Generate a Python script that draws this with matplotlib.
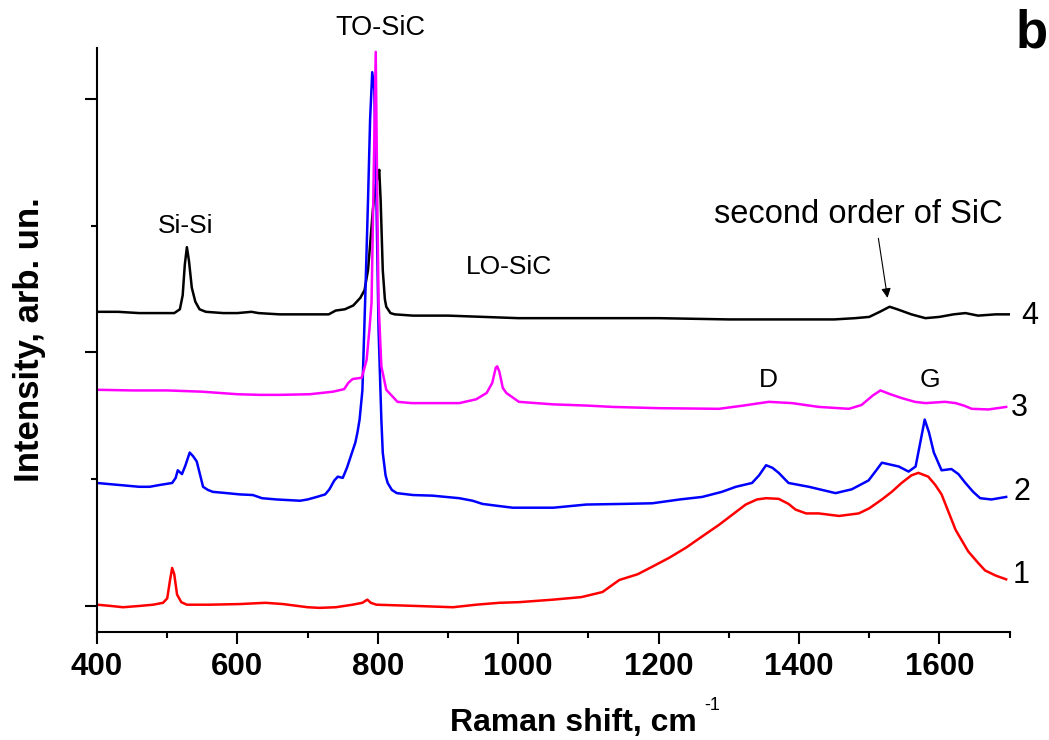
import matplotlib
matplotlib.use("Agg")
import matplotlib.pyplot as plt
from matplotlib.ticker import MultipleLocator

plt.rcParams['font.family'] = ['Liberation Sans', 'DejaVu Sans']

# spectrum 1 (red)
x1 = [400, 420, 437, 460, 480, 494, 500, 504, 507, 510, 514, 520, 528, 560, 603, 640, 665,
      700, 717, 740, 764, 778, 785, 790, 798, 855, 907, 940, 973, 1001, 1050, 1090, 1120,
      1144, 1170, 1191, 1215, 1239, 1265, 1286, 1305, 1324, 1340, 1353, 1371, 1385, 1395,
      1410, 1428, 1457, 1485, 1500, 1518, 1532, 1546, 1560, 1570, 1584, 1594, 1603, 1613,
      1623, 1641, 1655, 1665, 1680, 1695]
y1 = [0.01, 0.0, -0.01, 0.0, 0.01, 0.025, 0.06, 0.205, 0.30, 0.25, 0.09, 0.03, 0.01, 0.01,
      0.015, 0.025, 0.015, -0.01, -0.015, -0.01, 0.01, 0.025, 0.05, 0.025, 0.01, 0.0, -0.01,
      0.01, 0.025, 0.03, 0.05, 0.07, 0.11, 0.205, 0.25, 0.31, 0.38, 0.46, 0.56, 0.64, 0.72,
      0.80, 0.84, 0.85, 0.845, 0.805, 0.76, 0.73, 0.73, 0.71, 0.73, 0.77, 0.84, 0.90, 0.97,
      1.03, 1.05, 1.02, 0.955, 0.88, 0.74, 0.60, 0.43, 0.34, 0.28, 0.24, 0.21]

# spectrum 2 (blue)
x2 = [400, 430, 460, 475, 490, 507, 512, 515, 521, 526, 532, 537, 542, 547, 551, 558, 565,
      585, 603, 622, 635, 656, 689, 700, 713, 725, 731, 738, 743, 750, 756, 762, 768, 771,
      774, 778, 782, 786, 789, 792, 795, 798, 801, 805, 807, 811, 814, 820, 827, 850, 878,
      916, 935, 949, 970, 992, 1020, 1050, 1097, 1150, 1191, 1230, 1262, 1290, 1310, 1333,
      1343, 1353, 1362, 1371, 1385, 1414, 1452, 1475, 1499, 1510, 1518, 1542, 1556, 1566,
      1572, 1579, 1585, 1592, 1603, 1617, 1627, 1637, 1648, 1658, 1674, 1695]
y2 = [0.97, 0.955, 0.94, 0.94, 0.955, 0.97, 1.01, 1.07, 1.04, 1.11, 1.21, 1.18, 1.14, 1.03,
      0.94, 0.915, 0.90, 0.89, 0.88, 0.875, 0.85, 0.84, 0.83, 0.84, 0.86, 0.88, 0.92, 0.99,
      1.02, 1.01, 1.09, 1.19, 1.29, 1.37, 1.47, 1.70, 2.42, 3.20, 3.84, 4.21, 4.07, 3.20,
      2.18, 1.47, 1.21, 1.03, 0.97, 0.915, 0.89, 0.875, 0.87, 0.85, 0.83, 0.805, 0.79, 0.775,
      0.775, 0.775, 0.80, 0.805, 0.81, 0.84, 0.86, 0.90, 0.94, 0.97, 1.03, 1.11, 1.09, 1.05,
      0.97, 0.94, 0.89, 0.92, 0.99, 1.07, 1.13, 1.10, 1.06, 1.10, 1.27, 1.47, 1.37, 1.21,
      1.07, 1.08, 1.04, 0.97, 0.90, 0.85, 0.84, 0.86]

# spectrum 3 (magenta)
x3 = [400, 450, 500, 550, 600, 632, 660, 703, 736, 752, 758, 764, 777, 784, 788, 791, 794,
      797, 799, 801, 805, 812, 828, 848, 880, 916, 940, 955, 963, 968, 970, 973, 978, 983,
      1001, 1050, 1100, 1134, 1200, 1286, 1320, 1357, 1390, 1428, 1471, 1489, 1505, 1516,
      1530, 1546, 1565, 1580, 1608, 1623, 1635, 1646, 1670, 1695]
y3 = [1.705, 1.70, 1.70, 1.69, 1.67, 1.665, 1.665, 1.67, 1.69, 1.71, 1.76, 1.79, 1.80, 1.94,
      2.18, 2.39, 3.36, 4.37, 3.30, 2.40, 1.89, 1.705, 1.61, 1.60, 1.60, 1.60, 1.63, 1.68,
      1.76, 1.88, 1.89, 1.85, 1.72, 1.68, 1.61, 1.59, 1.58, 1.57, 1.56, 1.555, 1.58, 1.61,
      1.60, 1.57, 1.555, 1.585, 1.66, 1.70, 1.67, 1.64, 1.61, 1.60, 1.61, 1.60, 1.58, 1.555,
      1.55, 1.57]

# spectrum 4 (black)
x4 = [400, 430, 460, 490, 510, 518, 522, 525, 528, 531, 535, 540, 546, 555, 580, 600, 620,
      630, 660, 700, 730, 740, 753, 765, 775, 781, 786, 789, 793, 797, 800, 802, 804, 807,
      810, 812, 818, 824, 850, 900, 950, 1000, 1100, 1200, 1300, 1400, 1450, 1480, 1500,
      1515, 1529, 1540, 1560, 1580, 1600, 1620, 1637, 1655, 1680, 1700]
y4 = [2.32, 2.32, 2.31, 2.31, 2.31, 2.34, 2.45, 2.69, 2.83, 2.72, 2.51, 2.40, 2.34, 2.32,
      2.31, 2.31, 2.32, 2.31, 2.30, 2.30, 2.30, 2.33, 2.34, 2.37, 2.43, 2.49, 2.65, 2.85,
      3.13, 3.32, 3.39, 3.44, 3.20, 2.65, 2.42, 2.36, 2.31, 2.30, 2.29, 2.29, 2.28, 2.27,
      2.27, 2.27, 2.26, 2.26, 2.26, 2.27, 2.28, 2.32, 2.36, 2.34, 2.30, 2.27, 2.28, 2.30,
      2.31, 2.29, 2.30, 2.30]

curve_labels = ["1", "2", "3", "4"]


def createPlot():
    fig = plt.figure(figsize=(10.49, 7.40), dpi=100)
    ax = fig.add_axes([0.0925, 0.146, 0.870, 0.789])

    ax.plot(x1, y1, color='#ff0000', lw=1.8)
    ax.plot(x4, y4, color='black', lw=1.8)
    ax.plot(x2, y2, color='#0000ff', lw=1.8)
    ax.plot(x3, y3, color='#ff00ff', lw=1.8)

    ax.set_xlim(400, 1700)
    ax.set_ylim(-0.205, 4.40)

    for s in ['top', 'right']:
        ax.spines[s].set_visible(False)
    for s in ['left', 'bottom']:
        ax.spines[s].set_linewidth(1.5)

    ax.xaxis.set_major_locator(MultipleLocator(200))
    ax.xaxis.set_minor_locator(MultipleLocator(100))
    ax.yaxis.set_major_locator(MultipleLocator(2))
    ax.yaxis.set_minor_locator(MultipleLocator(1))
    ax.tick_params(which='major', direction='out', length=8.5, width=1.5)
    ax.tick_params(which='minor', direction='out', length=4.5, width=1.5)
    ax.tick_params(axis='x', labelsize=22.5, pad=6)
    ax.tick_params(axis='y', labelleft=False)
    for lab in ax.get_xticklabels():
        lab.set_fontweight('bold')

    ax.set_xlabel("Raman shift, cm", fontsize=23, fontweight='bold', labelpad=19)
    ax.xaxis.label.set_x(0.5214)
    fig.text(0.679, 0.046, "-1", fontsize=13, ha='center', va='center')
    ax.set_ylabel("Intensity, arb. un.", fontsize=25, fontweight='bold', labelpad=28)

    ax.text(804, 4.56, "TO-SiC", fontsize=19.5, ha='center', va='center', clip_on=False)
    ax.text(526, 3.0, "Si-Si", fontsize=19, ha='center', va='center')
    ax.text(987, 2.67, "LO-SiC", fontsize=19, ha='center', va='center')
    ax.text(1357, 1.78, "D", fontsize=19, ha='center', va='center')
    ax.text(1587, 1.78, "G", fontsize=19, ha='center', va='center')
    ax.text(1485, 3.09, "second order of SiC", fontsize=23.5, ha='center', va='center')
    ax.annotate("", xy=(1526, 2.43), xytext=(1513, 2.90),
                arrowprops=dict(arrowstyle='-|>', color='black', lw=0.8,
                                shrinkA=0, shrinkB=0, mutation_scale=14))

    label_pos = [(1717, 0.245), (1717, 0.90), (1714, 1.56), (1728, 2.29)]
    for lab, (lx, ly) in zip(curve_labels, label_pos):
        ax.text(lx, ly, lab, fontsize=22, ha='center', va='center', clip_on=False)

    fig.text(0.983, 0.955, "b", fontsize=38, fontweight='bold', ha='center', va='center')

    fig.savefig("out.png", dpi=100)


def main():
    createPlot()


if __name__ == "__main__":
    main()
